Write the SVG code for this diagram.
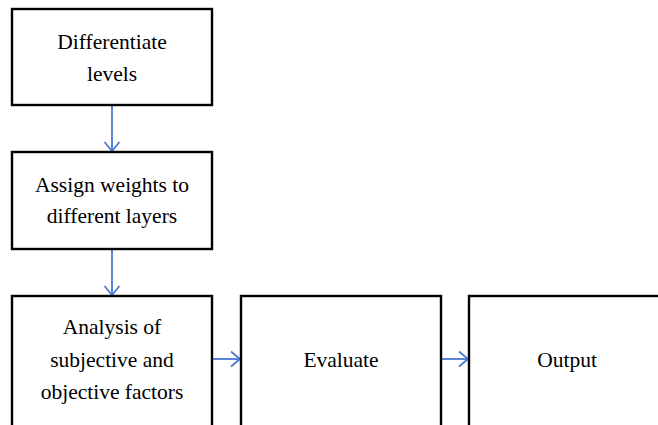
<svg xmlns="http://www.w3.org/2000/svg" width="658" height="425" viewBox="0 0 658 425">
<defs>
<style>
.box{fill:#fff;stroke:#000;stroke-width:2.4}
.t{font-family:"Liberation Serif","Times New Roman",serif;font-size:21.5px;fill:#000;text-anchor:middle}
.c{stroke:#4a78d4;stroke-width:1.8;fill:none}
</style>
<marker id="ah" markerWidth="12" markerHeight="18" refX="10" refY="9" orient="auto" markerUnits="userSpaceOnUse">
<path d="M1,1.5 L10,9 L1,16.5" fill="none" stroke="#4a78d4" stroke-width="1.8"/>
</marker>
</defs>
<rect width="658" height="425" fill="#fff"/>
<g id="connectors">
<line class="c" x1="112" y1="106" x2="112" y2="151" marker-end="url(#ah)"/>
<line class="c" x1="112" y1="250" x2="112" y2="295" marker-end="url(#ah)"/>
<line class="c" x1="213" y1="359" x2="240" y2="359" marker-end="url(#ah)"/>
<line class="c" x1="442" y1="359" x2="468" y2="359" marker-end="url(#ah)"/>
</g>
<g id="n1">
<rect class="box" x="12" y="9" width="200" height="96"/>
<text class="t" x="112" y="49">Differentiate</text>
<text class="t" x="112" y="81">levels</text>
</g>
<g id="n2">
<rect class="box" x="12" y="152" width="200" height="97"/>
<text class="t" x="112" y="192">Assign weights to</text>
<text class="t" x="112" y="223">different layers</text>
</g>
<g id="n3">
<rect class="box" x="12" y="296" width="200" height="140"/>
<text class="t" x="112" y="334">Analysis of</text>
<text class="t" x="112" y="367">subjective and</text>
<text class="t" x="112" y="399">objective factors</text>
</g>
<g id="n4">
<rect class="box" x="241" y="296" width="200" height="140"/>
<text class="t" x="341" y="367">Evaluate</text>
</g>
<g id="n5">
<rect class="box" x="469" y="296" width="200" height="140"/>
<text class="t" x="567" y="367">Output</text>
</g>
</svg>
